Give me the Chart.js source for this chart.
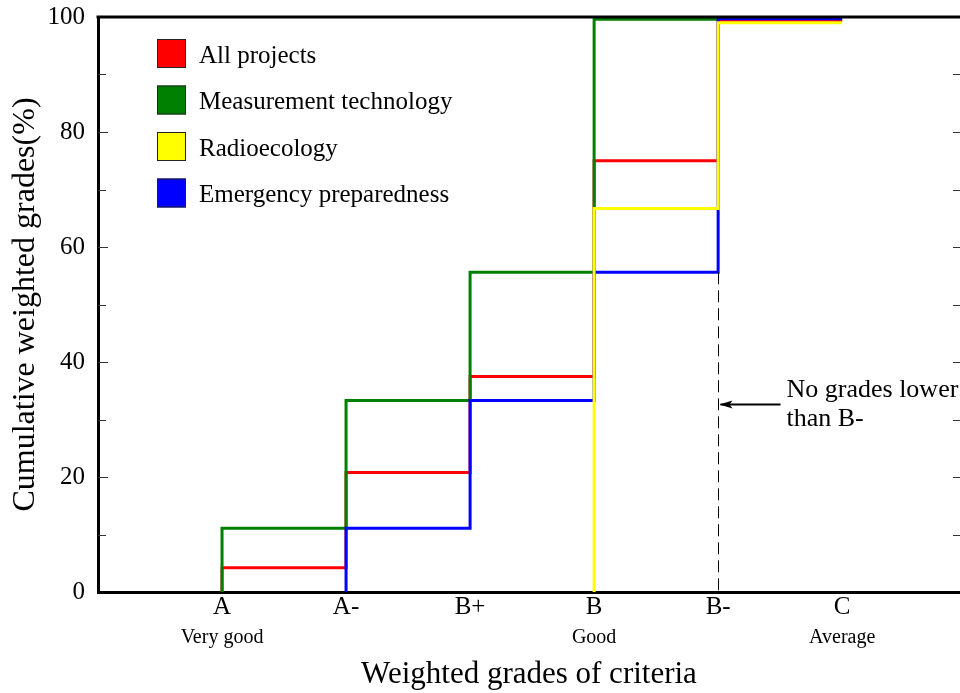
<!DOCTYPE html>
<html>
<head>
<meta charset="utf-8">
<script src="https://cdn.jsdelivr.net/npm/chart.js@4/dist/chart.umd.min.js"></script>
<style>
html, body { margin: 0; padding: 0; background: #fff; }
</style>
</head>
<body>
<canvas id="chart" width="960" height="693"></canvas>
<script>
// grades on the x axis, A (best) to C
const grades = ['A', 'A-', 'B+', 'B', 'B-', 'C'];
const gradeNotes = ['Very good', '', '', 'Good', '', 'Average'];
const yTicks = [0, 20, 40, 60, 80, 100];

// cumulative weighted grades (%) from each grade to the next, null = no line
const allProjects     = [4.2, 20.8, 37.5, 75, 99.4, 99.4];
const measurementTech = [11.1, 33.3, 55.6, 99.6, 99.6, null];
const radioecology    = [null, null, null, 66.7, 99.0, 99.0];
const emergencyPrep   = [null, 11.1, 33.3, 55.6, 99.7, 99.7];

const noteText = ['No grades lower', 'than B-'];
const noteGrade = 'B-';
const noteLevel = 32.7;

const serif = "'Liberation Serif', 'Times New Roman', serif";

// step line: each value holds from its grade to the next one
function toSteps(values) {
    var pts = [];
    values.forEach(function(v, i) {
        if (v === null) return;
        if (pts.length === 0) pts.push({ x: i + 1, y: 0 });
        pts.push({ x: i + 1, y: v });
    });
    return pts;
}

function series(label, values, color, order) {
    return {
        label: label,
        data: toSteps(values),
        borderColor: color,
        backgroundColor: color,
        borderWidth: 3,
        stepped: 'before',
        pointRadius: 0,
        fill: false,
        clip: false,
        order: order
    };
}

const extras = {
    id: 'extras',
    afterDatasetsDraw: function(chart) {
        const ctx = chart.ctx;
        const xs = chart.scales.x, ys = chart.scales.y;
        const area = chart.chartArea;
        ctx.save();

        // frame top line
        ctx.strokeStyle = '#000';
        ctx.lineWidth = 3;
        ctx.beginPath();
        ctx.moveTo(area.left - 1.5, area.top);
        ctx.lineTo(area.right, area.top);
        ctx.stroke();

        // inward tick marks on left and right
        ctx.lineWidth = 1.2;
        ctx.strokeStyle = '#333';
        for (var v = 10; v < 100; v += 10) {
            const y = Math.round(ys.getPixelForValue(v)) + 0.5;
            const len = v % 20 === 0 ? 10 : 8;
            ctx.beginPath();
            ctx.moveTo(area.left, y);
            ctx.lineTo(area.left + len, y);
            ctx.moveTo(area.right - 7, y);
            ctx.lineTo(area.right, y);
            ctx.stroke();
        }

        // second line of x labels
        ctx.fillStyle = '#000';
        ctx.font = '20px ' + serif;
        ctx.textAlign = 'center';
        ctx.textBaseline = 'middle';
        gradeNotes.forEach(function(n, i) {
            if (n) ctx.fillText(n, xs.getPixelForValue(i + 1), area.bottom + 46);
        });

        // dashed marker at B-
        const gi = grades.indexOf(noteGrade) + 1;
        const gx = Math.round(xs.getPixelForValue(gi)) + 0.5;
        ctx.strokeStyle = '#000';
        ctx.lineWidth = 1;
        ctx.setLineDash([12, 6]);
        ctx.beginPath();
        ctx.moveTo(gx, ys.getPixelForValue(emergencyPrep[gi - 2]));
        ctx.lineTo(gx, area.bottom);
        ctx.stroke();
        ctx.setLineDash([]);

        // arrow + note
        const ay = Math.round(ys.getPixelForValue(noteLevel)) + 0.5;
        ctx.lineWidth = 2;
        ctx.beginPath();
        ctx.moveTo(gx + 62, ay);
        ctx.lineTo(gx + 2, ay);
        ctx.stroke();
        ctx.beginPath();
        ctx.moveTo(gx + 1, ay);
        ctx.lineTo(gx + 14, ay - 4);
        ctx.lineTo(gx + 11, ay);
        ctx.lineTo(gx + 14, ay + 4);
        ctx.closePath();
        ctx.fillStyle = '#000';
        ctx.fill();

        ctx.font = '26px ' + serif;
        ctx.textAlign = 'left';
        ctx.fillText(noteText[0], gx + 68, ay - 14);
        ctx.fillText(noteText[1], gx + 68, ay + 15);

        // legend
        chart.data.datasets.forEach(function(ds, i) {
            const by = 39 + i * 46.5;
            ctx.fillStyle = ds.borderColor;
            ctx.fillRect(157, by, 29, 29);
            ctx.strokeStyle = '#222';
            ctx.lineWidth = 1;
            ctx.strokeRect(157.5, by + 0.5, 28, 28);
            ctx.fillStyle = '#000';
            ctx.font = '25px ' + serif;
            ctx.textAlign = 'left';
            ctx.textBaseline = 'middle';
            ctx.fillText(ds.label, 199, by + 17);
        });
        ctx.restore();
    }
};

new Chart(document.getElementById('chart'), {
    type: 'line',
    data: {
        datasets: [
            series('All projects', allProjects, '#ff0000', 3),
            series('Measurement technology', measurementTech, '#008000', 2),
            series('Radioecology', radioecology, '#ffff00', 0),
            series('Emergency preparedness', emergencyPrep, '#0000ff', 1)
        ]
    },
    options: {
        responsive: false,
        animation: false,
        devicePixelRatio: 1,
        layout: { padding: { top: 17, right: 0, left: 0, bottom: 0 } },
        plugins: {
            legend: { display: false },
            tooltip: { enabled: false }
        },
        scales: {
            x: {
                type: 'linear',
                min: 0,
                max: 6.95,
                afterBuildTicks: function(scale) {
                    scale.ticks = grades.map(function(g, i) { return { value: i + 1 }; });
                },
                afterFit: function(scale) { scale.height = 101; },
                ticks: {
                    autoSkip: false,
                    maxRotation: 0,
                    padding: 0,
                    color: '#000',
                    font: { family: serif, size: 25 },
                    callback: function(v) { return grades[v - 1] || ''; }
                },
                grid: { display: false, drawTicks: false },
                border: { display: true, color: '#000', width: 3 },
                title: {
                    display: true,
                    text: 'Weighted grades of criteria',
                    color: '#000',
                    font: { family: serif, size: 31 },
                    padding: { top: 0, bottom: 0 }
                }
            },
            y: {
                min: 0,
                max: 100,
                afterBuildTicks: function(scale) {
                    scale.ticks = yTicks.map(function(v) { return { value: v }; });
                },
                afterFit: function(scale) {
                    scale.width = 98;
                    scale.paddingTop = 0;
                    scale.paddingBottom = 0;
                },
                ticks: {
                    padding: 13,
                    color: '#000',
                    font: { family: serif, size: 25 }
                },
                grid: { display: false, drawTicks: false },
                border: { display: true, color: '#000', width: 3 },
                title: {
                    display: true,
                    text: 'Cumulative weighted grades(%)',
                    color: '#000',
                    font: { family: serif, size: 32 },
                    padding: { top: 6, bottom: 0 }
                }
            }
        }
    },
    plugins: [extras]
});
</script>
</body>
</html>
